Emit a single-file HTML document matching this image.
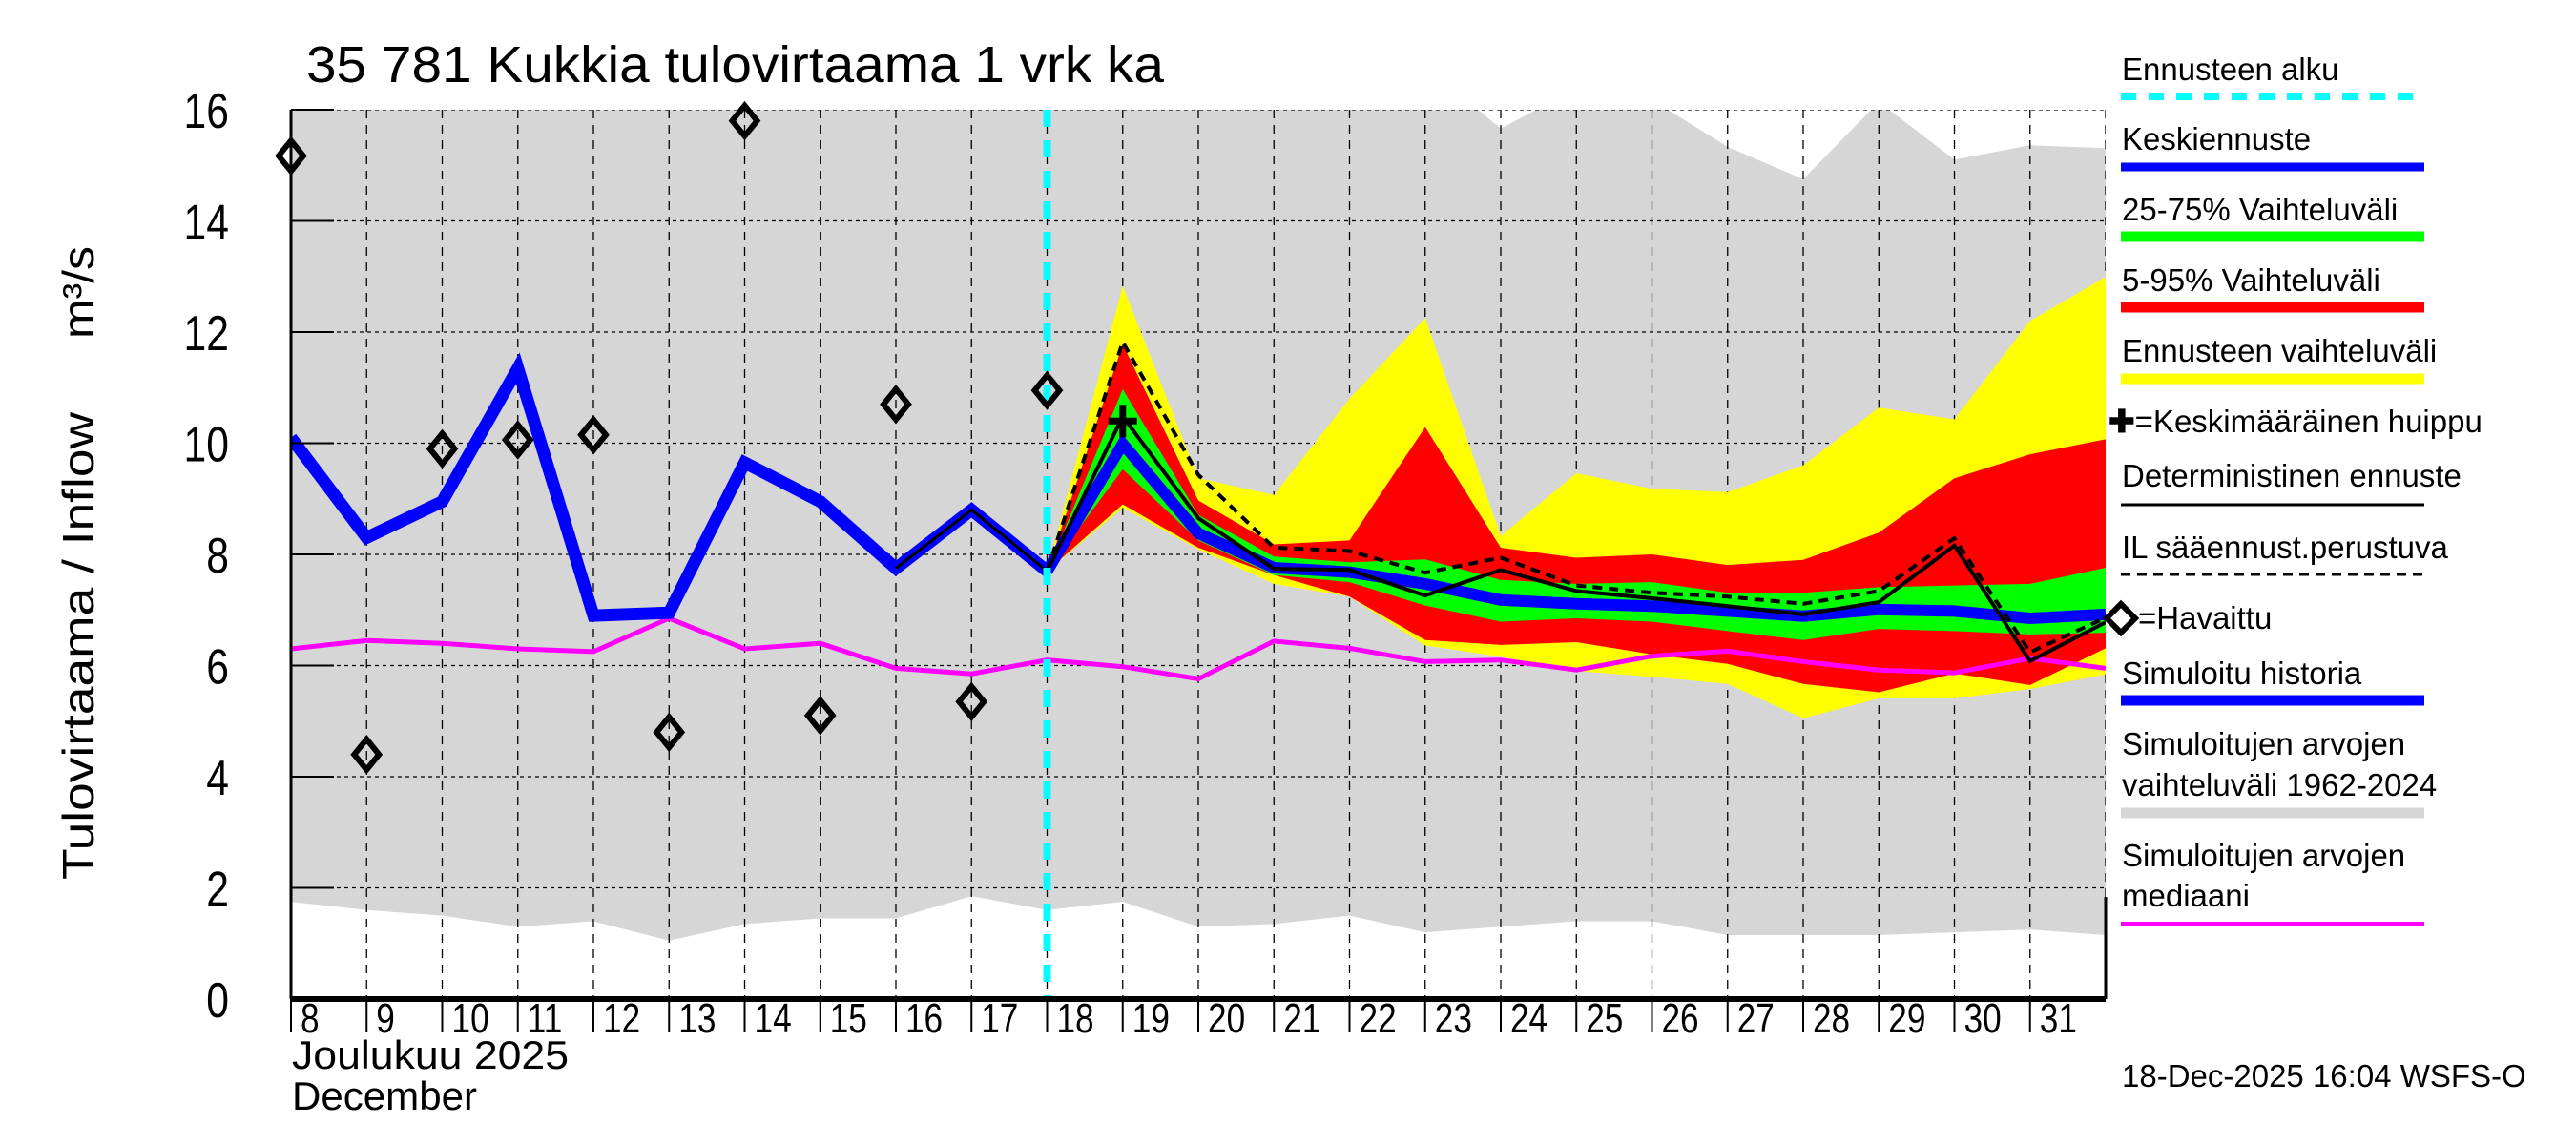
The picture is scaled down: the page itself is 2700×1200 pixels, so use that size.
<!DOCTYPE html>
<html><head><meta charset="utf-8">
<style>
html,body{margin:0;padding:0;background:#fff;}
svg{display:block;font-family:"Liberation Sans",sans-serif;}
</style></head>
<body>
<svg id="chart" width="2700" height="1200" viewBox="0 0 2700 1200" xmlns="http://www.w3.org/2000/svg">
<defs><clipPath id="plotclip"><rect x="305" y="115" width="1902" height="932"/></clipPath></defs>
<rect x="0" y="0" width="2700" height="1200" fill="#fff"/>
<text x="321" y="86" font-size="54" textLength="899" lengthAdjust="spacingAndGlyphs">35 781 Kukkia tulovirtaama 1 vrk ka</text>
<g id="plot" clip-path="url(#plotclip)"></g>
<g id="markers"></g>
<g id="axes"></g>
<text transform="translate(98,922) rotate(-90)" font-size="46" textLength="490" lengthAdjust="spacingAndGlyphs">Tulovirtaama / Inflow</text>
<text transform="translate(98,355) rotate(-90)" font-size="46" textLength="97" lengthAdjust="spacingAndGlyphs">m³/s</text>
<text x="306" y="1120" font-size="42" textLength="290" lengthAdjust="spacingAndGlyphs">Joulukuu  2025</text>
<text x="306" y="1163" font-size="42" textLength="194" lengthAdjust="spacingAndGlyphs">December</text>
<g id="legend" font-size="33">
  <text x="2224" y="84">Ennusteen alku</text>
  <line x1="2223" y1="101" x2="2541" y2="101" stroke="#00ffff" stroke-width="8" stroke-dasharray="16,13"/>
  <text x="2224" y="157">Keskiennuste</text>
  <line x1="2223" y1="175" x2="2541" y2="175" stroke="#0000ff" stroke-width="9"/>
  <text x="2224" y="231">25-75% Vaihteluväli</text>
  <line x1="2223" y1="248" x2="2541" y2="248" stroke="#00ff00" stroke-width="11"/>
  <text x="2224" y="305">5-95% Vaihteluväli</text>
  <line x1="2223" y1="322" x2="2541" y2="322" stroke="#ff0000" stroke-width="11"/>
  <text x="2224" y="379">Ennusteen vaihteluväli</text>
  <line x1="2223" y1="397" x2="2541" y2="397" stroke="#ffff00" stroke-width="11"/>
  <text x="2210" y="453"><tspan font-weight="bold">✚</tspan>=Keskimääräinen huippu</text>
  <text x="2224" y="510">Deterministinen ennuste</text>
  <line x1="2223" y1="529" x2="2541" y2="529" stroke="#000" stroke-width="3"/>
  <text x="2224" y="585">IL sääennust.perustuva</text>
  <line x1="2223" y1="602" x2="2541" y2="602" stroke="#000" stroke-width="3" stroke-dasharray="10,7"/>
  <path d="M2223,633 L2238,648 L2223,663 L2208,648 Z" fill="none" stroke="#000" stroke-width="6"/>
  <text x="2241" y="659">=Havaittu</text>
  <text x="2224" y="717">Simuloitu historia</text>
  <line x1="2223" y1="734" x2="2541" y2="734" stroke="#0000ff" stroke-width="11"/>
  <text x="2224" y="791">Simuloitujen arvojen</text>
  <text x="2224" y="834">vaihteluväli 1962-2024</text>
  <line x1="2223" y1="852" x2="2541" y2="852" stroke="#d6d6d6" stroke-width="11"/>
  <text x="2224" y="908">Simuloitujen arvojen</text>
  <text x="2224" y="950">mediaani</text>
  <line x1="2223" y1="968" x2="2541" y2="968" stroke="#ff00ff" stroke-width="4"/>
  <text x="2224" y="1139">18-Dec-2025 16:04 WSFS-O</text>
</g>
</svg>
<script>
const histDays = [8,9,10,11,12,13,14,15,16,17,18];
const histValues = [10.1,8.3,8.95,11.35,6.9,6.95,9.65,8.95,7.75,8.8,7.7];
const obsValues = [15.17,4.4,9.9,10.06,10.15,4.8,15.8,5.1,10.7,5.35,10.95];
const allDays = [8,9,10,11,12,13,14,15,16,17,18,19,20,21,22,23,24,25,26,27,28,29,30,31,32];
const greyTop = [17,17,17,17,17,17,17,17,17,17,17,17,17,17,17,16.8,15.66,16.38,16.18,15.33,14.75,16.14,15.1,15.36,15.31];
const greyBottom = [1.75,1.6,1.5,1.3,1.4,1.05,1.35,1.45,1.45,1.85,1.6,1.75,1.3,1.35,1.5,1.2,1.3,1.4,1.4,1.15,1.15,1.15,1.2,1.25,1.15];
const medianSim = [6.3,6.45,6.4,6.3,6.25,6.85,6.3,6.4,5.95,5.85,6.1,5.98,5.76,6.44,6.31,6.07,6.1,5.92,6.17,6.26,6.07,5.92,5.87,6.13,5.95];
const fcDays = [18,19,20,21,22,23,24,25,26,27,28,29,30,31,32];
const yellowTop = [7.7,12.83,9.37,9.07,10.8,12.25,8.33,9.46,9.18,9.12,9.6,10.64,10.43,12.2,12.99];
const yellowBottom = [7.7,8.84,8.09,7.47,7.24,6.36,6.16,5.9,5.8,5.67,5.05,5.41,5.41,5.58,5.84];
const redTop = [7.7,11.78,8.97,8.18,8.25,10.29,8.12,7.94,8.0,7.81,7.9,8.39,9.37,9.8,10.07];
const redBottom = [7.7,8.9,8.12,7.63,7.24,6.46,6.37,6.42,6.2,6.03,5.67,5.52,5.86,5.65,6.31];
const greenTop = [7.7,10.97,8.71,7.96,7.86,7.91,7.54,7.47,7.5,7.31,7.31,7.41,7.44,7.47,7.76];
const greenBottom = [7.7,9.53,8.25,7.63,7.5,7.08,6.79,6.85,6.79,6.62,6.46,6.66,6.62,6.56,6.59];
const medianFc = [7.7,9.99,8.38,7.76,7.68,7.47,7.18,7.11,7.07,6.98,6.89,7.01,6.98,6.85,6.92];
const detFc = [7.7,10.48,8.65,7.74,7.72,7.26,7.72,7.34,7.21,7.07,6.92,7.14,8.16,6.08,6.78];
const ilFc = [7.7,11.82,9.43,8.12,8.06,7.67,7.94,7.44,7.31,7.24,7.11,7.34,8.29,6.24,6.86];
const peakDay = [19];
const peakValue = [10.4];
const yTicks = [0,2,4,6,8,10,12,14,16];
const xTickLabels = ["8","9","10","11","12","13","14","15","16","17","18","19","20","21","22","23","24","25","26","27","28","29","30","31"];
const forecastStart = 18;

const NS = "http://www.w3.org/2000/svg";
const X0 = 305, DX = 79.25, Y0 = 1047, DY = 58.25;
function xs(d){ return X0 + (d - 8) * DX; }
function ys(v){ return Y0 - v * DY; }
function mk(tag, attrs, parent){
  const e = document.createElementNS(NS, tag);
  for (const k in attrs) e.setAttribute(k, attrs[k]);
  parent.appendChild(e);
  return e;
}
function pts(days, vals){ return days.map((d,i)=>xs(d).toFixed(1)+","+ys(vals[i]).toFixed(1)).join(" "); }
function band(days, top, bot){
  return pts(days, top) + " " + pts(days.slice().reverse(), bot.slice().reverse());
}
const plot = document.getElementById("plot");
const axes = document.getElementById("axes");
const markers = document.getElementById("markers");

let el = mk("polygon", {points: band(allDays, greyTop, greyBottom), fill: "#d6d6d6"}, plot);



yTicks.forEach(v => {
  const g = mk("line", {x1: X0, x2: 2207, y1: ys(v), y2: ys(v), stroke: "#000", "stroke-width": 1.3, "stroke-dasharray": "4,4"}, plot);
  
  
});
for (let d = 9; d <= 32; d++) {
  const g = mk("line", {x1: xs(d), x2: xs(d), y1: 115, y2: Y0, stroke: "#000", "stroke-width": 1.3, "stroke-dasharray": "9,7"}, plot);
  
  
}

el = mk("polygon", {points: band(fcDays, yellowTop, yellowBottom), fill: "#ffff00"}, plot);


el = mk("polygon", {points: band(fcDays, redTop, redBottom), fill: "#ff0000"}, plot);


el = mk("polygon", {points: band(fcDays, greenTop, greenBottom), fill: "#00ff00"}, plot);



el = mk("polyline", {points: pts(allDays, medianSim), fill: "none", stroke: "#ff00ff", "stroke-width": 5}, plot);



el = mk("polyline", {points: pts(histDays, histValues), fill: "none", stroke: "#0000ff", "stroke-width": 13, "stroke-linejoin": "miter"}, plot);


el = mk("polyline", {points: pts(fcDays, medianFc), fill: "none", stroke: "#0000ff", "stroke-width": 12}, plot);


el = mk("polyline", {points: pts([16,17,18], [7.75,8.8,7.7]), fill: "none", stroke: "#000", "stroke-width": 3}, plot);


el = mk("polyline", {points: pts(fcDays, detFc), fill: "none", stroke: "#000", "stroke-width": 4}, plot);


el = mk("polyline", {points: pts(fcDays, ilFc), fill: "none", stroke: "#000", "stroke-width": 4, "stroke-dasharray": "10,7"}, plot);



peakDay.forEach((d,i) => {
  const x = xs(d), y = ys(peakValue[i]);
  const p = mk("path", {d: `M${x-15},${y} H${x+15} M${x},${y-17} V${y+17}`, stroke: "#000", "stroke-width": 7, fill: "none"}, plot);
  
  
});

el = mk("line", {x1: xs(forecastStart), x2: xs(forecastStart), y1: 115, y2: Y0, stroke: "#00ffff", "stroke-width": 8, "stroke-dasharray": "18,14"}, plot);



histDays.forEach((d,i) => {
  const x = xs(d), y = ys(obsValues[i]);
  const p = mk("path", {d: `M${x},${y-16} L${x+13},${y} L${x},${y+16} L${x-13},${y} Z`, fill: "none", stroke: "#000", "stroke-width": 6}, markers);
  
  
});

el = mk("line", {x1: X0, x2: X0, y1: 115, y2: Y0, stroke: "#000", "stroke-width": 3}, axes);


el = mk("line", {x1: X0, x2: 2207, y1: Y0, y2: Y0, stroke: "#000", "stroke-width": 6}, axes);


el = mk("line", {x1: 2207, x2: 2207, y1: 940, y2: Y0, stroke: "#000", "stroke-width": 3}, axes);


yTicks.forEach(v => {
  const t = mk("line", {x1: X0, x2: X0 + 45, y1: ys(v), y2: ys(v), stroke: "#000", "stroke-width": 2}, axes);
  
  
  const lbl = mk("text", {x: 240, y: ys(v) + 19, "font-size": 52, "text-anchor": "end", transform: `translate(240,0) scale(0.82,1) translate(-240,0)`}, axes);
  lbl.textContent = String(v);
  
  
});
xTickLabels.forEach((s,i) => {
  const x = xs(8 + i);
  const t = mk("line", {x1: x, x2: x, y1: Y0, y2: Y0 + 35, stroke: "#000", "stroke-width": 2}, axes);
  
  
  const lbl = mk("text", {x: x + 10, y: 1082, "font-size": 44, transform: `translate(${x+10},0) scale(0.8,1) translate(${-(x+10)},0)`}, axes);
  lbl.textContent = s;
  
  
});
</script>
</body></html>
